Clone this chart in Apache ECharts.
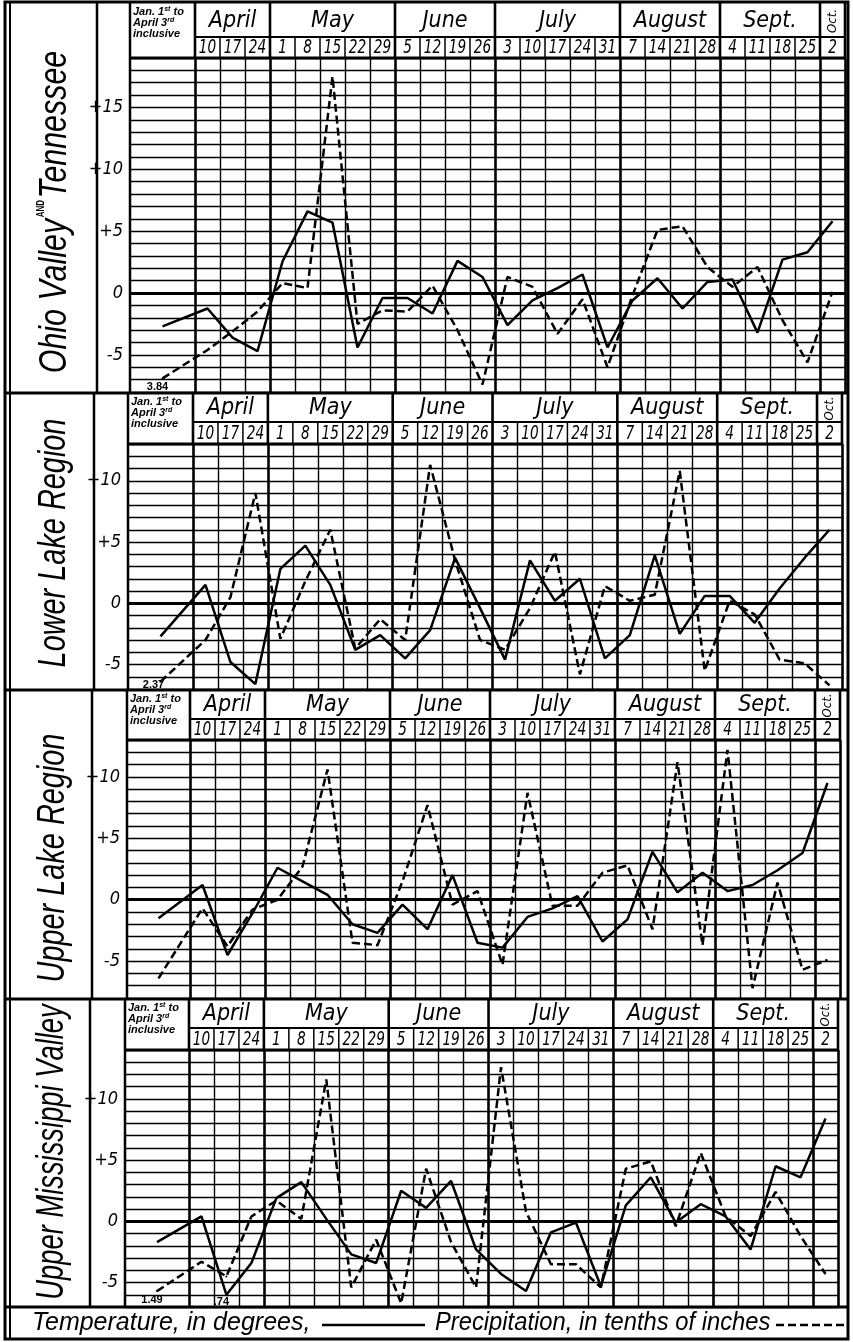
<!DOCTYPE html>
<html>
<head>
<meta charset="utf-8">
<script src="https://cdn.jsdelivr.net/npm/echarts@6/dist/echarts.min.js"></script>
<style>
  html, body { margin: 0; padding: 0; background: #fff; }
  #chart { width: 853px; height: 1342px; }
</style>
</head>
<body>
<div id="chart"></div>
<script>
// ---- data ----
var categories = ['Jan. 1 to April 3', 'Apr 10', 'Apr 17', 'Apr 24', 'May 1', 'May 8', 'May 15', 'May 22', 'May 29',
  'Jun 5', 'Jun 12', 'Jun 19', 'Jun 26', 'Jul 3', 'Jul 10', 'Jul 17', 'Jul 24', 'Jul 31',
  'Aug 7', 'Aug 14', 'Aug 21', 'Aug 28', 'Sep 4', 'Sep 11', 'Sep 18', 'Sep 25', 'Oct 2'];
var days = ['10', '17', '24', '1', '8', '15', '22', '29', '5', '12', '19', '26', '3', '10', '17', '24', '31',
  '7', '14', '21', '28', '4', '11', '18', '25', '2'];
var months = ['April', 'May', 'June', 'July', 'August', 'Sept.', 'Oct.'];
var monthWeeks = [3, 5, 4, 5, 4, 4, 1];
var regions = ['Ohio Valley and Tennessee', 'Lower Lake Region', 'Upper Lake Region', 'Upper Mississippi Valley'];

var ohioTemp   = [-2.7, -1.25, -3.6, -4.7, 2.55, 6.6, 5.7, -4.4, -0.4, -0.4, -1.65, 2.6, 1.3, -2.6, -0.6, 0.4, 1.5, -4.4, -0.6, 1.2, -1.25, 0.9, 1.1, -3.2, 2.7, 3.3, 5.8];
var ohioPrecip = [-6.9, -4.6, -3.1, -1.5, 0.8, 0.4, 17.5, -2.5, -1.4, -1.5, 0.6, -3.0, -7.4, 1.3, 0.5, -3.3, -0.5, -6.0, -0.2, 5.1, 5.4, 2.1, 0.5, 2.1, -2.2, -5.6, 0.1];
var lowerTemp   = [-2.7, 1.5, -4.8, -6.6, 2.8, 4.7, 1.5, -3.8, -2.6, -4.5, -2.2, 3.7, -0.4, -4.6, 3.5, 0.2, 2.0, -4.5, -2.6, 3.9, -2.5, 0.6, 0.6, -1.6, 1.2, 3.7, 6.0];
var lowerPrecip = [-6.4, -3.0, 0.5, 9.0, -2.9, 1.8, 6.0, -3.7, -1.3, -3.0, 11.3, 3.5, -3.0, -3.8, -0.4, 4.2, -5.8, 1.4, 0.2, 0.7, 10.8, -5.5, 0.2, -0.9, -4.6, -4.9, -6.7];
var upperTemp   = [-1.5, 1.2, -4.5, -1.1, 2.6, 1.5, 0.4, -2.0, -2.7, -0.4, -2.4, 2.0, -3.5, -3.9, -1.4, -0.7, 0.3, -3.4, -1.6, 3.9, 0.6, 2.2, 0.7, 1.2, 2.4, 3.8, 9.5];
var upperPrecip = [-6.4, -0.7, -3.8, -0.8, 0.0, 2.7, 10.6, -3.5, -3.7, 1.5, 7.7, -0.4, 0.7, -5.3, 8.7, -0.5, -0.5, 2.2, 2.8, -2.4, 11.2, -3.7, 12.2, -7.2, 1.4, -5.7, -4.9];
var missTemp   = [-1.7, 0.4, -6.0, -3.4, 1.9, 3.2, 0.2, -2.7, -3.4, 2.5, 1.1, 3.3, -2.3, -4.3, -5.7, -0.9, -0.1, -5.3, 1.3, 3.6, -0.1, 1.4, 0.4, -2.3, 4.5, 3.6, 8.4];
var missPrecip = [-5.7, -3.3, -4.5, 0.4, 1.7, 0.2, 11.6, -5.4, -1.5, -6.7, 4.3, -1.7, -5.4, 12.6, 0.8, -3.5, -3.5, -5.4, 4.3, 4.9, -0.4, 5.6, 0.4, -1.2, 2.4, -1.2, -4.3];

// figures written beside clipped precipitation points
var janPrecipNotes = ['3.84', '2.37', null, '1.49'];
var missApr17Note = '.74';

var TEMP = 'Temperature, in degrees,';
var PREC = 'Precipitation, in tenths of inches';

// ---- layout of the four panels ----
var panels = [
  {top: 3,   monthBottom: 37,   dayBottom: 58,   plotBottom: 392,  labL: 97, janL: 130, weekL: 195, weekR: 845, yMin: -8, yMax: 19, nameY: 212, nameScale: 0.8},
  {top: 393, monthBottom: 422,  dayBottom: 444,  plotBottom: 689,  labL: 94, janL: 128, weekL: 193, weekR: 842, yMin: -7, yMax: 13, nameY: 543, nameScale: 0.76},
  {top: 690, monthBottom: 719,  dayBottom: 740,  plotBottom: 998,  labL: 92, janL: 127, weekL: 190, weekR: 840, yMin: -8, yMax: 13, nameY: 858, nameScale: 0.76},
  {top: 999, monthBottom: 1028, dayBottom: 1050, plotBottom: 1307, labL: 90, janL: 125, weekL: 189, weekR: 838, yMin: -7, yMax: 14, nameY: 1152, nameScale: 0.72}
];
var temps = [ohioTemp, lowerTemp, upperTemp, missTemp];
var precs = [ohioPrecip, lowerPrecip, upperPrecip, missPrecip];
var noteOffsets = [[-5, 0], [-7, -5], null, [-5, 0]];

var FONT = "'DejaVu Sans Condensed', 'Liberation Sans', sans-serif";
var NAMEFONT = "'Liberation Sans', sans-serif";

panels.forEach(function (p) {
  p.colW = (p.weekR - p.weekL) / 26;
  p.janW = (p.weekL - p.janL) / p.colW;
  p.xMin = -0.5 - p.janW;
});

function xOf(p, i) {
  // category index -> position on the week axis
  return i === 0 ? -0.5 - p.janW / 2 : i - 1;
}

// month boundaries, counted in weeks
var monthEdges = [0];
monthWeeks.forEach(function (n) { monthEdges.push(monthEdges[monthEdges.length - 1] + n); });

var chart = echarts.init(document.getElementById('chart'));

var grids = [], xAxes = [], yAxes = [], series = [];
panels.forEach(function (p, k) {
  grids.push({left: p.janL, top: p.dayBottom, width: p.weekR - p.janL, height: p.plotBottom - p.dayBottom});
  xAxes.push({
    type: 'value', gridIndex: k, min: p.xMin, max: 25.5,
    axisLine: {show: false}, axisTick: {show: false}, axisLabel: {show: false}, splitLine: {show: false}
  });
  yAxes.push({
    type: 'value', gridIndex: k, min: p.yMin, max: p.yMax, interval: 1,
    axisLine: {show: false}, axisTick: {show: false},
    axisLabel: {
      margin: 7, color: '#000', fontSize: 18, fontStyle: 'italic', fontFamily: FONT,
      formatter: function (v) { return v % 5 === 0 ? (v > 0 ? '+' + v : String(v)) : ''; }
    },
    splitLine: {lineStyle: {color: '#000', width: 1.3}}
  });

  var rules = [];
  for (var b = 0; b <= 26; b++) {
    rules.push({xAxis: b - 0.5, lineStyle: {width: monthEdges.indexOf(b) >= 0 ? 2.6 : 1.4}});
  }
  rules.push({yAxis: 0, lineStyle: {width: 3}});
  series.push({
    type: 'line', xAxisIndex: k, yAxisIndex: k, data: [], silent: true, z: 1,
    markLine: {
      silent: true, animation: false, symbol: ['none', 'none'], label: {show: false},
      lineStyle: {color: '#000', type: 'solid'}, data: rules
    }
  });

  series.push({
    name: TEMP, type: 'line', xAxisIndex: k, yAxisIndex: k, z: 5,
    symbol: 'none', showSymbol: true, animation: false,
    lineStyle: {color: '#000', width: 2.5}, itemStyle: {color: '#000'},
    data: temps[k].map(function (v, i) { return [xOf(p, i), v]; })
  });

  var pdata = precs[k].map(function (v, i) { return [xOf(p, i), v]; });
  if (janPrecipNotes[k]) {
    pdata[0] = {value: pdata[0], symbol: 'circle', symbolSize: 2,
      label: {show: true, formatter: janPrecipNotes[k], position: 'bottom', distance: 2, offset: noteOffsets[k],
        fontSize: 11, fontWeight: 'bold', color: '#000', fontFamily: NAMEFONT}};
  }
  if (k === 3) {
    pdata[2] = {value: pdata[2], symbol: 'circle', symbolSize: 2,
      label: {show: true, formatter: missApr17Note, position: 'bottom', distance: 19, offset: [-5, 0],
        fontSize: 11, fontWeight: 'bold', color: '#000', fontFamily: NAMEFONT}};
  }
  series.push({
    name: PREC, type: 'line', xAxisIndex: k, yAxisIndex: k, z: 5,
    symbol: 'none', showSymbol: true, animation: false,
    lineStyle: {color: '#000', width: 2.5, type: [8, 4]}, itemStyle: {color: '#000'},
    data: pdata
  });
});

chart.setOption({
  backgroundColor: '#fff',
  animation: false,
  grid: grids,
  xAxis: xAxes,
  yAxis: yAxes,
  series: series
});

// ---- table frame, header and key, placed with the axes' own scales ----
var g = [];
function seg(x1, y1, x2, y2, w, dash) {
  g.push({type: 'line', silent: true, z: 10, shape: {x1: x1, y1: y1, x2: x2, y2: y2},
    style: {stroke: '#000', lineWidth: w, lineDash: dash || null}});
}
function txt(x, y, s, opt) {
  var el = {type: 'text', silent: true, z: 11, x: x, y: y,
    style: {text: s, fill: '#000', align: 'center', verticalAlign: 'middle',
      font: opt.font}};
  if (opt.rotation) el.rotation = opt.rotation;
  if (opt.scaleX) el.scaleX = opt.scaleX;
  if (opt.rich) el.style.rich = opt.rich;
  if (opt.align) el.style.align = opt.align;
  if (opt.vAlign) el.style.verticalAlign = opt.vAlign;
  g.push(el);
}

g.push({type: 'rect', silent: true, z: 12, shape: {x: 5, y: 2, width: 843, height: 1337},
  style: {fill: 'none', stroke: '#000', lineWidth: 3}});
seg(10, 2, 10, 1339, 2);

panels.forEach(function (p, k) {
  var px = function (v) { return chart.convertToPixel({xAxisIndex: k}, v); };
  if (k > 0) seg(5, p.top, 848, p.top, 3);
  seg(p.labL, p.top, p.labL, p.plotBottom, 2.5);
  seg(p.janL, p.top, p.janL, p.plotBottom, 2.5);
  seg(px(-0.5), p.monthBottom, px(25.5), p.monthBottom, 2);
  seg(p.janL, p.dayBottom, px(25.5), p.dayBottom, 3);

  for (var b = 0; b <= 26; b++) {
    var x = px(b - 0.5);
    var isMonth = monthEdges.indexOf(b) >= 0;
    seg(x, isMonth ? p.top : p.monthBottom, x, p.dayBottom, isMonth ? 2.6 : 1.5);
  }
  var midMonth = (p.top + p.monthBottom) / 2 + 1;
  months.forEach(function (m, j) {
    var cx = (px(monthEdges[j] - 0.5) + px(monthEdges[j + 1] - 0.5)) / 2;
    if (m === 'Oct.') {
      txt(cx, midMonth, m, {font: 'italic 13px ' + FONT, rotation: Math.PI / 2});
    } else {
      txt(cx, midMonth, m, {font: 'italic 23px ' + FONT});
    }
  });
  var midDay = (p.monthBottom + p.dayBottom) / 2 + 1;
  days.forEach(function (d, i) {
    txt(px(i), midDay, d, {font: 'italic 19px ' + FONT, scaleX: 0.8});
  });
  txt(p.janL + 3, p.top + 3, '{t|Jan. 1}{s|st}{t| to}\n{t|April 3}{s|rd}\n{t|inclusive}', {
    font: 'italic bold 11px ' + NAMEFONT, align: 'left', vAlign: 'top',
    rich: {
      t: {font: 'italic bold 11px ' + NAMEFONT, fill: '#000', lineHeight: 11},
      s: {font: 'italic bold 7px ' + NAMEFONT, fill: '#000', lineHeight: 11, verticalAlign: 'top'}
    }
  });

  var nameX = (10 + p.labL) / 2 + 2;
  if (k === 0) {
    txt(nameX, p.nameY, '{a|Ohio Valley}{b|AND}{a|Tennessee}', {
      font: 'italic 38px ' + NAMEFONT, rotation: Math.PI / 2, scaleX: p.nameScale,
      rich: {
        a: {font: 'italic 38px ' + NAMEFONT, fill: '#000'},
        b: {font: 'bold 10px ' + NAMEFONT, fill: '#000', verticalAlign: 'top', padding: [0, 2, 14, 2]}
      }
    });
  } else {
    txt(nameX, p.nameY, regions[k], {font: 'italic 38px ' + NAMEFONT, rotation: Math.PI / 2, scaleX: p.nameScale});
  }
});
seg(5, 1307, 848, 1307, 3);

// key row
txt(32, 1323, TEMP, {font: 'italic 25px ' + NAMEFONT, align: 'left'});
seg(322, 1325, 425, 1325, 2.5);
txt(435, 1323, PREC, {font: 'italic 25px ' + NAMEFONT, align: 'left', scaleX: 0.95});
seg(776, 1325, 844, 1325, 2.5, [8, 4]);

chart.setOption({graphic: g});
</script>
</body>
</html>
